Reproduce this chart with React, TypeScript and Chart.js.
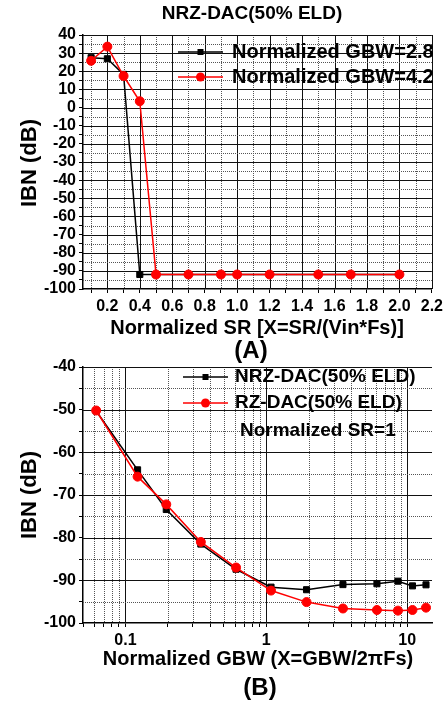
import React, { useEffect, useRef } from 'react';
import { Chart, registerables } from 'chart.js';
Chart.register(...registerables);

const FONT = '"Liberation Sans", Arial, sans-serif';

// ---------- Panel A data ----------
const SR_X = [0.1, 0.2, 0.3, 0.4, 0.5, 0.7, 0.9, 1.0, 1.2, 1.5, 1.7, 2.0];
const IBN_GBW_2_8 = [27.5, 26.9, 18.3, -92, -92, -92, -92, -92, -92, -92, -92, -92];
const IBN_GBW_4_2 = [25.8, 33.6, 17.4, 3.5, -92, -92, -92, -92, -92, -92, -92, -92];
const A_X_TICKS = [0.1, 0.2, 0.3, 0.4, 0.5, 0.6, 0.7, 0.8, 0.9, 1.0, 1.1, 1.2, 1.3, 1.4, 1.5, 1.6, 1.7, 1.8, 1.9, 2.0, 2.1, 2.2];
const A_X_LABELS = ['0.2', '0.4', '0.6', '0.8', '1.0', '1.2', '1.4', '1.6', '1.8', '2.0', '2.2'];
const A_Y_TICKS = [-100, -95, -90, -85, -80, -75, -70, -65, -60, -55, -50, -45, -40, -35, -30, -25, -20, -15, -10, -5, 0, 5, 10, 15, 20, 25, 30, 35, 40];
const A_Y_LABELS = ['-100', '-90', '-80', '-70', '-60', '-50', '-40', '-30', '-20', '-10', '0', '10', '20', '30', '40'];
const A_NAMES = ['Normalized GBW=2.8', 'Normalized GBW=4.2'];

// ---------- Panel B data ----------
const GBW_X = [0.062, 0.122, 0.195, 0.343, 0.61, 1.08, 1.93, 3.5, 6.1, 8.6, 10.9, 13.6];
const IBN_NRZ = [-50.3, -64.1, -73.4, -81.5, -87.4, -91.6, -92.2, -91.0, -90.8, -90.2, -91.3, -91.05];
const IBN_RZ = [-50.2, -65.7, -72.2, -81.0, -87.0, -92.4, -95.1, -96.6, -96.95, -97.1, -96.95, -96.4];
const B_X_TICKS = [0.05, 0.06, 0.07, 0.08, 0.09, 0.1, 0.2, 0.3, 0.4, 0.5, 0.6, 0.7, 0.8, 0.9, 1, 2, 3, 4, 5, 6, 7, 8, 9, 10];
const B_X_LABELS = ['0.1', '1', '10'];
const B_Y_TICKS = [-100, -95, -90, -85, -80, -75, -70, -65, -60, -55, -50, -45, -40];
const B_Y_LABELS = ['-100', '-90', '-80', '-70', '-60', '-50', '-40'];
const B_NAMES = ['NRZ-DAC(50% ELD)', 'RZ-DAC(50% ELD)'];

const tickFont = { family: FONT, size: 16, weight: 'bold' as const };

function makeGridPlugin() {
  return {
    id: 'customGrid',
    beforeDatasetsDraw(chart: any) {
      const { ctx, chartArea: a, scales } = chart;
      ctx.save();
      const line = (x1: number, y1: number, x2: number, y2: number, major: boolean) => {
        ctx.beginPath();
        ctx.lineWidth = 1;
        ctx.strokeStyle = major ? '#111' : '#555';
        ctx.setLineDash(major ? [] : [1, 1]);
        ctx.moveTo(x1, y1);
        ctx.lineTo(x2, y2);
        ctx.stroke();
      };
      scales.x.ticks.forEach((t: any) => {
        const px = Math.round(scales.x.getPixelForValue(t.value)) + 0.5;
        if (px < a.left + 2 || px > a.right + 1) return;
        line(px, a.top, px, a.bottom, t.label !== '');
      });
      scales.y.ticks.forEach((t: any) => {
        const py = Math.round(scales.y.getPixelForValue(t.value)) + 0.5;
        if (py > a.bottom - 2 || py < a.top - 1) return;
        line(a.left, py, a.right, py, t.label !== '');
      });
      ctx.restore();
    },
  };
}

type Txt = { text: string; x: number; y: number; size: number; rot?: boolean; align?: CanvasTextAlign };
type Leg = { text: string; color: string; marker: 'rect' | 'circle'; x1: number; x2: number; tx: number; y: number; size: number };

function makeTextPlugin(texts: Txt[], legend: Leg[]) {
  return {
    id: 'customText',
    afterDraw(chart: any) {
      const ctx = chart.ctx;
      ctx.save();
      ctx.fillStyle = '#000';
      ctx.textBaseline = 'middle';
      texts.forEach((t) => {
        ctx.font = `bold ${t.size}px ${FONT}`;
        ctx.textAlign = t.align || 'center';
        if (t.rot) {
          ctx.save();
          ctx.translate(t.x, t.y);
          ctx.rotate(-Math.PI / 2);
          ctx.fillText(t.text, 0, 0);
          ctx.restore();
        } else {
          ctx.fillText(t.text, t.x, t.y);
        }
      });
      legend.forEach((l) => {
        ctx.strokeStyle = l.color;
        ctx.fillStyle = l.color;
        ctx.lineWidth = 1.5;
        ctx.beginPath();
        ctx.moveTo(l.x1, l.y);
        ctx.lineTo(l.x2, l.y);
        ctx.stroke();
        const mx = (l.x1 + l.x2) / 2;
        if (l.marker === 'rect') {
          ctx.fillRect(mx - 3, l.y - 3, 6, 6);
        } else {
          ctx.beginPath();
          ctx.arc(mx, l.y, 4.5, 0, Math.PI * 2);
          ctx.fill();
        }
        ctx.fillStyle = '#000';
        ctx.font = `bold ${l.size}px ${FONT}`;
        ctx.textAlign = 'left';
        ctx.fillText(l.text, l.tx, l.y);
      });
      ctx.restore();
    },
  };
}

function ds(label: string, xs: number[], ys: number[], color: string, style: string, order: number) {
  return {
    label,
    data: xs.map((x, i) => ({ x, y: ys[i] })),
    borderColor: color,
    backgroundColor: color,
    borderWidth: 1.5,
    pointStyle: style,
    pointRadius: style === 'rect' ? 4.3 : 4.5,
    pointBackgroundColor: color,
    pointBorderColor: color,
    pointBorderWidth: 1,
    tension: 0,
    order,
  };
}

function yAxis(min: number, max: number, ticks: number[], labels: string[]) {
  return {
    type: 'linear',
    min,
    max,
    afterBuildTicks: (s: any) => {
      s.ticks = ticks.map((v) => ({ value: v }));
    },
    afterFit: (s: any) => {
      s.width = 83;
    },
    ticks: {
      font: tickFont,
      color: '#000',
      padding: 3,
      autoSkip: false,
      callback: (v: any) => (labels.includes(String(v)) ? String(v) : ''),
    },
    grid: { drawOnChartArea: false, drawTicks: true, tickLength: 4, tickColor: '#000', tickWidth: 1 },
    border: { display: true, color: '#000', width: 1.5 },
  };
}

function buildA() {
  return {
    type: 'line',
    data: {
      datasets: [
        ds(A_NAMES[0], SR_X, IBN_GBW_2_8, '#000000', 'rect', 1),
        ds(A_NAMES[1], SR_X, IBN_GBW_4_2, '#ff0000', 'circle', 0),
      ],
    },
    options: {
      animation: false,
      responsive: false,
      events: [],
      layout: { padding: { left: 0, right: 15, top: 35, bottom: 388 } },
      plugins: { legend: { display: false }, title: { display: false }, tooltip: { enabled: false } },
      scales: {
        x: {
          type: 'linear',
          min: 0.05,
          max: 2.2,
          afterBuildTicks: (s: any) => {
            s.ticks = A_X_TICKS.map((v) => ({ value: v }));
          },
          afterFit: (s: any) => {
            s.height = 30;
          },
          ticks: {
            font: tickFont,
            color: '#000',
            padding: 4,
            maxRotation: 0,
            autoSkip: false,
            callback: (v: any) => {
              const s = Number(v).toFixed(1);
              return A_X_LABELS.includes(s) ? s : '';
            },
          },
          grid: { drawOnChartArea: false, drawTicks: true, tickLength: 4, tickColor: '#000', tickWidth: 1 },
          border: { display: true, color: '#000', width: 1.5 },
        },
        y: yAxis(-100, 40, A_Y_TICKS, A_Y_LABELS),
      },
    },
    plugins: [
      makeGridPlugin(),
      makeTextPlugin(
        [
          { text: 'NRZ-DAC(50% ELD)', x: 252, y: 14, size: 19 },
          { text: 'IBN (dB)', x: 30, y: 163, size: 22, rot: true },
          { text: 'Normalized SR [X=SR/(Vin*Fs)]', x: 257, y: 328, size: 20 },
          { text: '(A)', x: 251, y: 351, size: 24 },
        ],
        [
          { text: A_NAMES[0], color: '#000000', marker: 'rect', x1: 178, x2: 223, tx: 232, y: 52, size: 20 },
          { text: A_NAMES[1], color: '#ff0000', marker: 'circle', x1: 178, x2: 223, tx: 232, y: 77, size: 20 },
        ]
      ),
    ],
  };
}

function buildB() {
  return {
    type: 'line',
    data: {
      datasets: [
        ds(B_NAMES[0], GBW_X, IBN_NRZ, '#000000', 'rect', 1),
        ds(B_NAMES[1], GBW_X, IBN_RZ, '#ff0000', 'circle', 0),
      ],
    },
    options: {
      animation: false,
      responsive: false,
      events: [],
      layout: { padding: { left: 0, right: 15, top: 367, bottom: 54 } },
      plugins: { legend: { display: false }, title: { display: false }, tooltip: { enabled: false } },
      scales: {
        x: {
          type: 'logarithmic',
          min: 0.05,
          max: 15,
          afterBuildTicks: (s: any) => {
            s.ticks = B_X_TICKS.map((v) => ({ value: v }));
          },
          afterFit: (s: any) => {
            s.height = 30;
          },
          ticks: {
            font: tickFont,
            color: '#000',
            padding: 4,
            maxRotation: 0,
            autoSkip: false,
            callback: (v: any) => (B_X_LABELS.includes(String(v)) ? String(v) : ''),
          },
          grid: { drawOnChartArea: false, drawTicks: true, tickLength: 4, tickColor: '#000', tickWidth: 1 },
          border: { display: true, color: '#000', width: 1.5 },
        },
        y: yAxis(-100, -40, B_Y_TICKS, B_Y_LABELS),
      },
    },
    plugins: [
      makeGridPlugin(),
      makeTextPlugin(
        [
          { text: 'IBN (dB)', x: 30, y: 495, size: 22, rot: true },
          { text: 'Normalized SR=1', x: 240, y: 431, size: 19, align: 'left' },
          { text: 'Normalized GBW (X=GBW/2\u03c0Fs)', x: 258, y: 659, size: 20 },
          { text: '(B)', x: 260, y: 688, size: 24 },
        ],
        [
          { text: B_NAMES[0], color: '#000000', marker: 'rect', x1: 183, x2: 228, tx: 235, y: 377, size: 19 },
          { text: B_NAMES[1], color: '#ff0000', marker: 'circle', x1: 183, x2: 228, tx: 235, y: 403, size: 19 },
        ]
      ),
    ],
  };
}

function ChartCanvas({ build }: { build: () => any }) {
  const ref = useRef<HTMLCanvasElement | null>(null);
  useEffect(() => {
    if (!ref.current) return;
    const chart = new Chart(ref.current, build());
    return () => chart.destroy();
  }, [build]);
  return (
    <canvas
      ref={ref}
      width={447}
      height={707}
      style={{ position: 'absolute', left: 0, top: 0, width: 447, height: 707 }}
    />
  );
}

export default function App() {
  return (
    <div style={{ position: 'fixed', left: 0, top: 0, width: 447, height: 707, background: '#fff', overflow: 'hidden' }}>
      <ChartCanvas build={buildA} />
      <ChartCanvas build={buildB} />
    </div>
  );
}
